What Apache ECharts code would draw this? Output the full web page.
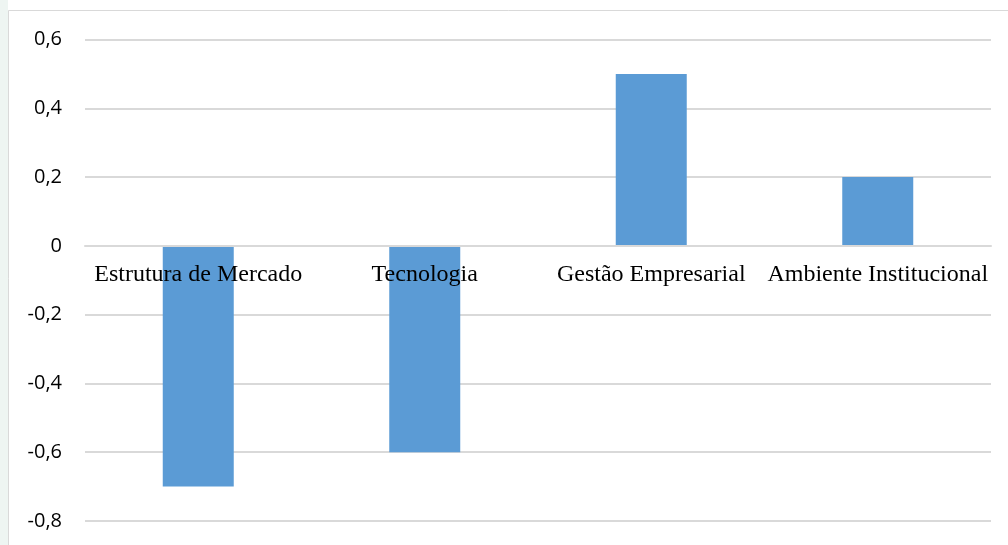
<!DOCTYPE html>
<html><head><meta charset="utf-8">
<script src="https://cdn.jsdelivr.net/npm/echarts@6/dist/echarts.min.js"></script>
<style>html,body{margin:0;padding:0;background:#fff}#c{width:1008px;height:545px}</style>
</head><body><div id="c"></div>
<script>
var categories = ['Estrutura de Mercado', 'Tecnologia', 'Gestão Empresarial', 'Ambiente Institucional'];
var values = [-0.7, -0.6, 0.5, 0.2];
var yMin = -0.8, yMax = 0.6, yStep = 0.2;

var gridTop = 39.5, gridBottom = 24, H = 545;
var zeroOffset = -((H - gridTop - gridBottom) * (0 - yMin) / (yMax - yMin));

var chart = echarts.init(document.getElementById('c'));
chart.setOption({
  animation: false,
  backgroundColor: '#fff',
  graphic: [
    {type: 'rect', shape: {x: 0, y: 0, width: 8, height: 545}, style: {fill: '#eef5f2'}, z: -10},
    {type: 'rect', shape: {x: 8.5, y: 10.5, width: 1010, height: 545}, style: {fill: '#fff', stroke: '#d9d9d9', lineWidth: 1}, z: -5}
  ],
  grid: {left: 85, right: 17, top: gridTop, bottom: gridBottom, containLabel: false, outerBoundsMode: 'none'},
  xAxis: {
    type: 'category', data: categories, position: 'bottom', offset: zeroOffset,
    axisLine: {show: true, onZero: false, lineStyle: {color: '#d9d9d9', width: 2}},
    axisTick: {show: false},
    axisLabel: {margin: 17, color: '#000', fontFamily: 'Liberation Serif', fontSize: 24, interval: 0},
    z: 10
  },
  yAxis: {
    type: 'value', min: yMin, max: yMax, interval: yStep,
    axisLine: {show: false}, axisTick: {show: false},
    splitLine: {lineStyle: {color: '#d9d9d9', width: 2}},
    axisLabel: {margin: 23, color: '#000', fontFamily: 'Open Sans', fontSize: 20,
      formatter: function (v) { v = Math.round(v * 10) / 10; return String(v).replace('.', ','); }}
  },
  series: [{
    type: 'bar', data: values, barWidth: 71,
    itemStyle: {color: '#5b9bd5'}, z: 2
  }]
});
</script></body></html>
